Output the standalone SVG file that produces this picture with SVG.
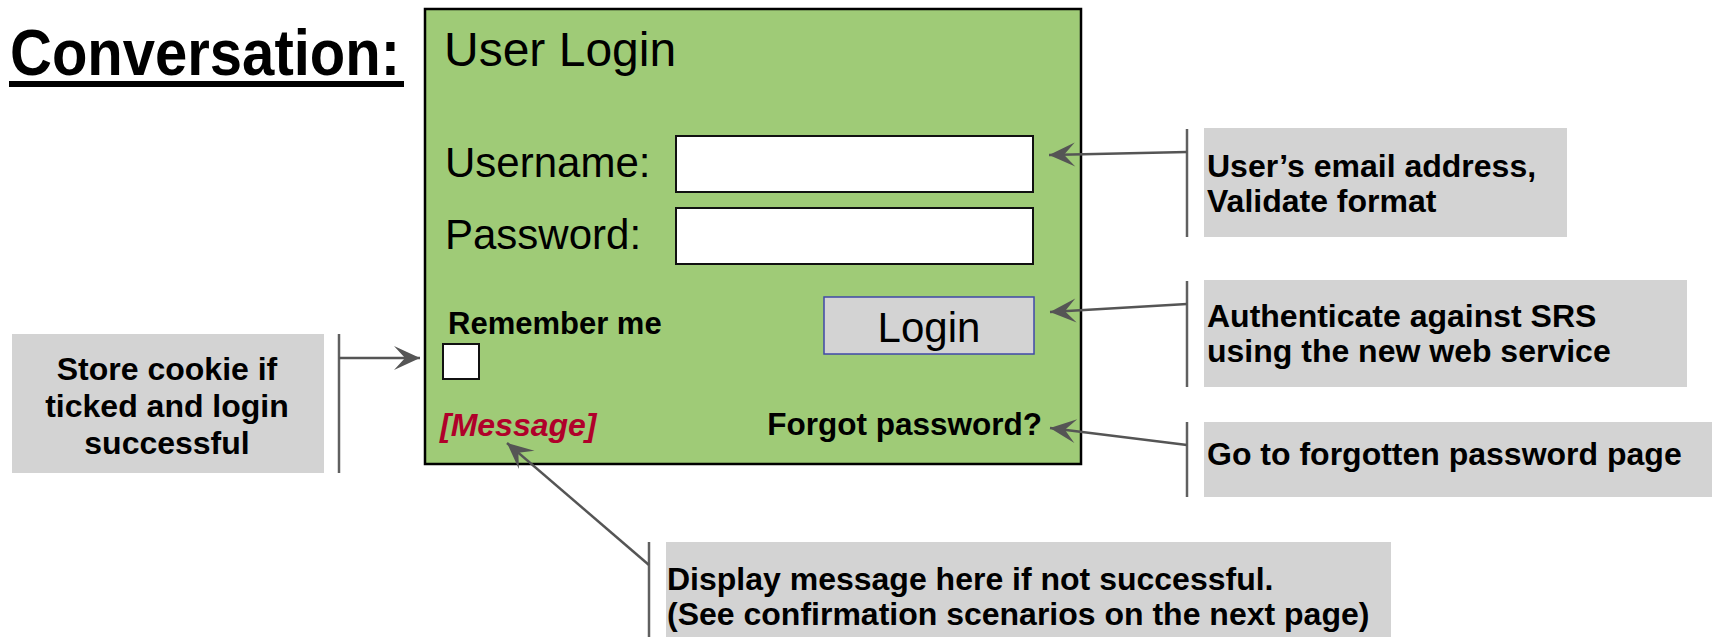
<svg xmlns="http://www.w3.org/2000/svg" width="1712" height="637" viewBox="0 0 1712 637">
<defs>
<marker id="ah" markerUnits="userSpaceOnUse" markerWidth="30" markerHeight="30" viewBox="-28 -14 30 28" refX="0" refY="0" orient="auto">
<path d="M0,0 L-26,-12 L-15,0 L-26,12 Z" fill="#555555"/>
</marker>
</defs>
<style>
text{font-family:"Liberation Sans",Arial,sans-serif;fill:#000}
.b{font-weight:bold}
.note{fill:#D3D3D3}
.brk{stroke:#606060;stroke-width:2.5;fill:none}
.con{stroke:#555555;stroke-width:2.5;fill:none;marker-end:url(#ah)}
.inp{fill:#FFFFFF;stroke:#111;stroke-width:2}
.ann{font-size:32px;font-weight:bold}
</style>
<rect width="1712" height="637" fill="#FFFFFF"/>

<g id="title">
<text x="10" y="75" class="b" font-size="64" textLength="390" lengthAdjust="spacingAndGlyphs">Conversation:</text>
<rect x="9" y="81" width="395" height="6" fill="#000"/>
</g>

<g id="login-form">
<rect x="425" y="9" width="656" height="455" fill="#9FCB77" stroke="#000" stroke-width="2.5"/>
<text x="444" y="66" font-size="48">User Login</text>
<text x="445" y="177" font-size="42">Username:</text>
<text x="445" y="249" font-size="42">Password:</text>
<rect class="inp" x="676" y="136" width="357" height="56"/>
<rect class="inp" x="676" y="208" width="357" height="56"/>
<text x="448" y="334" class="b" font-size="31">Remember me</text>
<rect class="inp" x="443" y="344" width="36" height="35"/>
<rect x="824" y="297" width="210" height="57" fill="#D3D3D3" stroke="#4048A8" stroke-width="1.5"/>
<text x="929" y="342" font-size="42" text-anchor="middle">Login</text>
<text x="1042" y="435" class="b" font-size="31.5" text-anchor="end">Forgot password?</text>
<text x="440" y="436" class="b" font-size="32" font-style="italic" style="fill:#B0002A">[Message]</text>
</g>

<g id="note-email">
<rect class="note" x="1204" y="128" width="363" height="109"/>
<text class="ann" x="1207" y="177">User’s email address,</text>
<text class="ann" x="1207" y="212">Validate format</text>
</g>

<g id="note-auth">
<rect class="note" x="1204" y="280" width="483" height="107"/>
<text class="ann" x="1207" y="327">Authenticate against SRS</text>
<text class="ann" x="1207" y="362">using the new web service</text>
</g>

<g id="note-forgot">
<rect class="note" x="1204" y="422" width="508" height="75"/>
<text class="ann" x="1207" y="465">Go to forgotten password page</text>
</g>

<g id="note-cookie">
<rect class="note" x="12" y="334" width="312" height="139"/>
<text class="ann" x="167" y="380" text-anchor="middle">Store cookie if</text>
<text class="ann" x="167" y="417" text-anchor="middle">ticked and login</text>
<text class="ann" x="167" y="454" text-anchor="middle">successful</text>
</g>

<g id="note-message">
<rect class="note" x="666" y="542" width="725" height="95"/>
<text class="ann" x="667" y="590">Display message here if not successful.</text>
<text class="ann" x="667" y="625">(See confirmation scenarios on the next page)</text>
</g>

<g id="connectors">
<line class="brk" x1="1187" y1="129" x2="1187" y2="237"/>
<line class="brk" x1="1187" y1="281" x2="1187" y2="387"/>
<line class="brk" x1="1187" y1="422" x2="1187" y2="497"/>
<line class="brk" x1="339" y1="334" x2="339" y2="473"/>
<line class="brk" x1="649" y1="542" x2="649" y2="637"/>
<line class="con" x1="1187" y1="152" x2="1049" y2="155"/>
<line class="con" x1="1187" y1="304" x2="1050" y2="312"/>
<line class="con" x1="1187" y1="445" x2="1050" y2="428"/>
<line class="con" x1="339" y1="358" x2="420" y2="358"/>
<line class="con" x1="649" y1="565" x2="507" y2="443"/>
</g>
</svg>
